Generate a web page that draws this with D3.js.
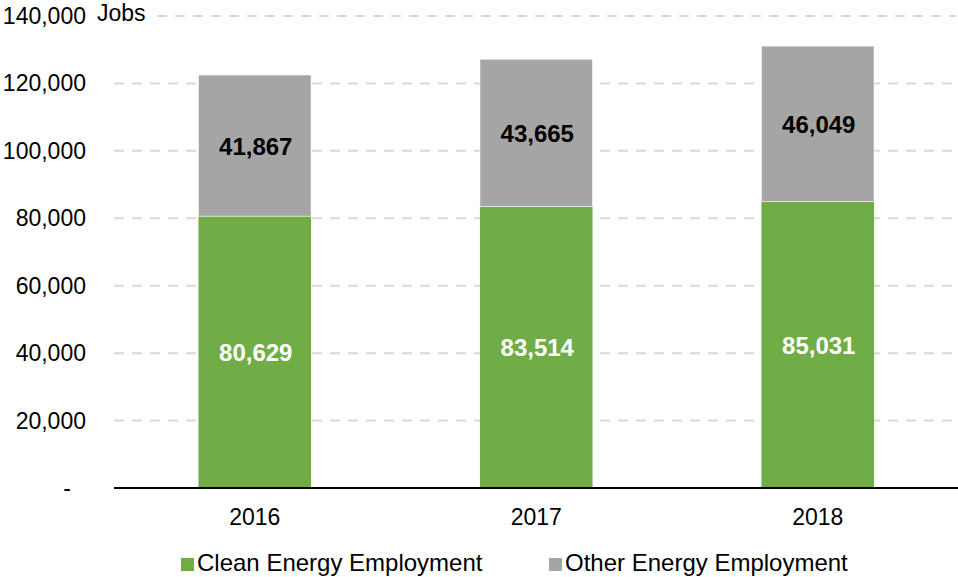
<!DOCTYPE html>
<html>
<head>
<meta charset="utf-8">
<script src="https://cdn.jsdelivr.net/npm/d3@7"></script>
<style>
  body { margin: 0; background: #fff; }
  svg { display: block; font-family: "Liberation Sans", Arial, sans-serif; }
</style>
</head>
<body>
<svg id="chart"></svg>
<script>
const width = 958
const height = 577

// Data
const years = ["2016", "2017", "2018"]
const cleanJobs = [80629, 83514, 85031]
const otherJobs = [41867, 43665, 46049]
const yTicks = [0, 20000, 40000, 60000, 80000, 100000, 120000, 140000]
const seriesNames = ["Clean Energy Employment", "Other Energy Employment"]

// Colors
const cleanColor = "#70AD47"
const otherColor = "#A5A5A5"
const gridColor = "#D9D9D9"

const svg = d3.select("#chart")
    .attr("width", width)
    .attr("height", height)

const x = d3.scaleBand()
    .domain(years)
    .range([114, 958.5])
    .paddingInner(0.6)
    .paddingOuter(0.3)

const y = d3.scaleLinear()
    .domain([0, 140000])
    .range([488, 16])

const fmt = d3.format(",")

// Gridlines (top one starts after the "Jobs" label)
svg.append("g")
    .selectAll("line")
    .data(yTicks.filter(t => t > 0))
    .enter()
    .append("line")
    .attr("x1", d => d === 140000 ? 157 : 114)
    .attr("x2", 956)
    .attr("y1", d => y(d))
    .attr("y2", d => y(d))
    .attr("stroke", gridColor)
    .attr("stroke-width", 2)
    .attr("stroke-dasharray", "10,8")

svg.append("text")
    .attr("x", 97)
    .attr("y", 21)
    .attr("font-size", 23)
    .attr("fill", "#000")
    .text("Jobs")

// Y tick labels
svg.append("g")
    .selectAll("text")
    .data(yTicks)
    .enter()
    .append("text")
    .attr("x", d => d === 0 ? 71 : 86)
    .attr("y", d => y(d) + 8)
    .attr("text-anchor", "end")
    .attr("font-size", 23)
    .attr("fill", "#000")
    .text(d => d === 0 ? "-" : fmt(d))

// Stacked bars
const rows = years.map((yr, i) => ({ year: yr, clean: cleanJobs[i], other: otherJobs[i] }))

const bars = svg.append("g")
    .selectAll("g")
    .data(rows)
    .enter()
    .append("g")

bars.append("rect")
    .attr("x", d => x(d.year))
    .attr("width", x.bandwidth())
    .attr("y", d => y(d.clean))
    .attr("height", d => y(0) - y(d.clean))
    .attr("fill", cleanColor)

bars.append("rect")
    .attr("x", d => x(d.year))
    .attr("width", x.bandwidth())
    .attr("y", d => y(d.clean + d.other))
    .attr("height", d => y(d.clean) - y(d.clean + d.other))
    .attr("fill", otherColor)
    .attr("stroke", "#fff")
    .attr("stroke-width", 0.6)

bars.append("text")
    .attr("x", d => x(d.year) + x.bandwidth() / 2 + 1)
    .attr("y", d => y(d.clean / 2) + 9)
    .attr("text-anchor", "middle")
    .attr("font-size", 24)
    .attr("font-weight", "bold")
    .attr("fill", "#fff")
    .text(d => fmt(d.clean))

bars.append("text")
    .attr("x", d => x(d.year) + x.bandwidth() / 2 + 1)
    .attr("y", d => y(d.clean + d.other / 2) + 9)
    .attr("text-anchor", "middle")
    .attr("font-size", 24)
    .attr("font-weight", "bold")
    .attr("fill", "#000")
    .text(d => fmt(d.other))

// Baseline
svg.append("line")
    .attr("x1", 114)
    .attr("x2", 958)
    .attr("y1", y(0))
    .attr("y2", y(0))
    .attr("stroke", "#000")
    .attr("stroke-width", 2)

// X labels
svg.append("g")
    .selectAll("text")
    .data(years)
    .enter()
    .append("text")
    .attr("x", d => x(d) + x.bandwidth() / 2)
    .attr("y", 525)
    .attr("text-anchor", "middle")
    .attr("font-size", 23)
    .attr("fill", "#000")
    .text(d => d)

// Legend
const legendX = [181, 549]
const legendColors = [cleanColor, otherColor]
const legend = svg.append("g")
    .selectAll("g")
    .data(seriesNames)
    .enter()
    .append("g")
    .attr("transform", (d, i) => `translate(${legendX[i]},0)`)

legend.append("rect")
    .attr("x", 0)
    .attr("y", 558)
    .attr("width", 13)
    .attr("height", 13)
    .attr("fill", (d, i) => legendColors[i])

legend.append("text")
    .attr("x", 16)
    .attr("y", 571)
    .attr("font-size", 24)
    .attr("fill", "#000")
    .text(d => d)
</script>
</body>
</html>
